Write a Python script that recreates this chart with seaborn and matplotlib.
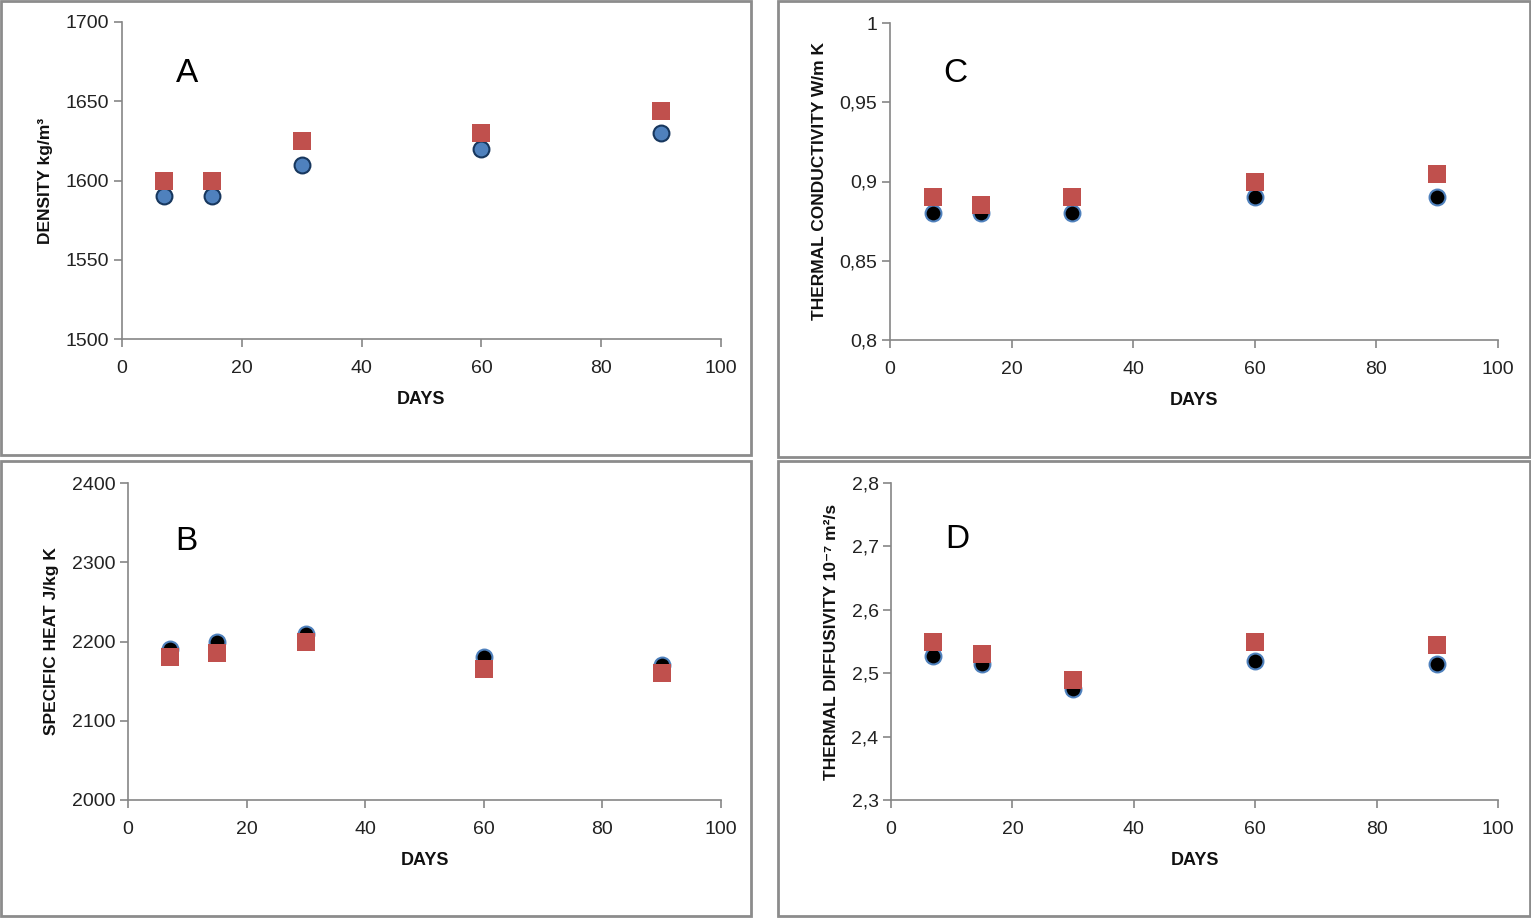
import matplotlib
matplotlib.use("Agg")
import matplotlib.pyplot as plt
import seaborn as sns
import pandas as pd
from matplotlib.patches import Rectangle
from matplotlib.ticker import FuncFormatter

# ── data ──
days = [7, 15, 30, 60, 90]

density_circ = [1590, 1590, 1610, 1620, 1630]
density_sq   = [1600, 1600, 1625, 1630, 1644]

cond_circ = [0.880, 0.880, 0.880, 0.890, 0.890]
cond_sq   = [0.890, 0.885, 0.890, 0.900, 0.905]

heat_circ = [2190, 2200, 2210, 2180, 2170]
heat_sq   = [2180, 2185, 2200, 2165, 2160]

diff_circ = [2.527, 2.515, 2.475, 2.520, 2.515]
diff_sq   = [2.550, 2.530, 2.490, 2.550, 2.545]

W, H = 1531, 918
sns.set_theme(style="white")
plt.rcParams["font.family"] = ["Liberation Sans", "DejaVu Sans"]

fig = plt.figure(figsize=(W / 100, H / 100), dpi=100)
fig.patch.set_facecolor("white")

AXCOL = "#868686"
RED = "#C0504D"
BLUE = "#4F81BD"


def comma(v, _):
    return f"{v:g}".replace(".", ",")


# panel: letter, box, axes (left, top, right, bottom) in px, data, limits, label
panels = [
    dict(letter="A", letter_xy=(187, 74), box=(1, 1, 751, 455), ax=(122, 22, 721, 339),
         circ=density_circ, sq=density_sq, ylim=(1500, 1700), ystep=50,
         ylabel="DENSITY kg/m³", cface=BLUE, cedge="#17375E", fmt=None),
    dict(letter="C", letter_xy=(955, 74), box=(778, 1, 1530, 457), ax=(890, 23, 1498, 340),
         circ=cond_circ, sq=cond_sq, ylim=(0.8, 1.0), ystep=0.05,
         ylabel="THERMAL CONDUCTIVITY W/m K", cface="black", cedge=BLUE, fmt=comma),
    dict(letter="B", letter_xy=(186, 542), box=(1, 461, 751, 916), ax=(128, 483, 721, 800),
         circ=heat_circ, sq=heat_sq, ylim=(2000, 2400), ystep=100,
         ylabel="SPECIFIC HEAT J/kg K", cface="black", cedge=BLUE, fmt=None),
    dict(letter="D", letter_xy=(957, 539), box=(778, 461, 1530, 916), ax=(891, 483, 1498, 800),
         circ=diff_circ, sq=diff_sq, ylim=(2.3, 2.8), ystep=0.1,
         ylabel="THERMAL DIFFUSIVITY 10⁻⁷ m²/s", cface="black", cedge=BLUE, fmt=comma),
]

for p in panels:
    x0, y0, x1, y1 = p["box"]
    fig.add_artist(Rectangle((x0 / W, 1 - y1 / H), (x1 - x0) / W, (y1 - y0) / H,
                             transform=fig.transFigure, fill=False,
                             edgecolor="#8C8C8C", lw=2))

    l, t, r, b = p["ax"]
    ax = fig.add_axes([l / W, 1 - b / H, (r - l) / W, (b - t) / H])
    ax.set_facecolor("none")

    df = pd.DataFrame({"days": days, "circ": p["circ"], "sq": p["sq"]})
    sns.scatterplot(data=df, x="days", y="circ", ax=ax, marker="o", s=130,
                    color=p["cface"], edgecolor=p["cedge"], linewidth=1.5, zorder=3)
    sns.scatterplot(data=df, x="days", y="sq", ax=ax, marker="s", s=175,
                    color=RED, edgecolor=RED, linewidth=0, zorder=4)

    lo, hi = p["ylim"]
    ax.set_xlim(0, 100)
    ax.set_ylim(lo, hi)
    ax.set_xticks(range(0, 101, 20))
    n = int(round((hi - lo) / p["ystep"]))
    ax.set_yticks([lo + i * p["ystep"] for i in range(n + 1)])
    if p["fmt"]:
        ax.yaxis.set_major_formatter(FuncFormatter(p["fmt"]))

    for side in ("top", "right"):
        ax.spines[side].set_visible(False)
    for side in ("left", "bottom"):
        ax.spines[side].set_color(AXCOL)
        ax.spines[side].set_linewidth(1.2)
    ax.tick_params(axis="both", direction="out", length=6, width=1.2, color=AXCOL,
                   labelsize=14, labelcolor="#222222", bottom=True, left=True)
    ax.tick_params(axis="x", pad=9)
    ax.tick_params(axis="y", pad=3)

    ax.set_xlabel("DAYS", fontsize=13, fontweight="bold", labelpad=10, color="#111111")
    ax.set_ylabel(p["ylabel"], fontsize=12.5, fontweight="bold", labelpad=9, color="#111111")

    lx, ly = p["letter_xy"]
    fig.text(lx / W, 1 - ly / H, p["letter"], fontsize=24, ha="center", va="center",
             color="black")

fig.savefig("out.png", dpi=100)
